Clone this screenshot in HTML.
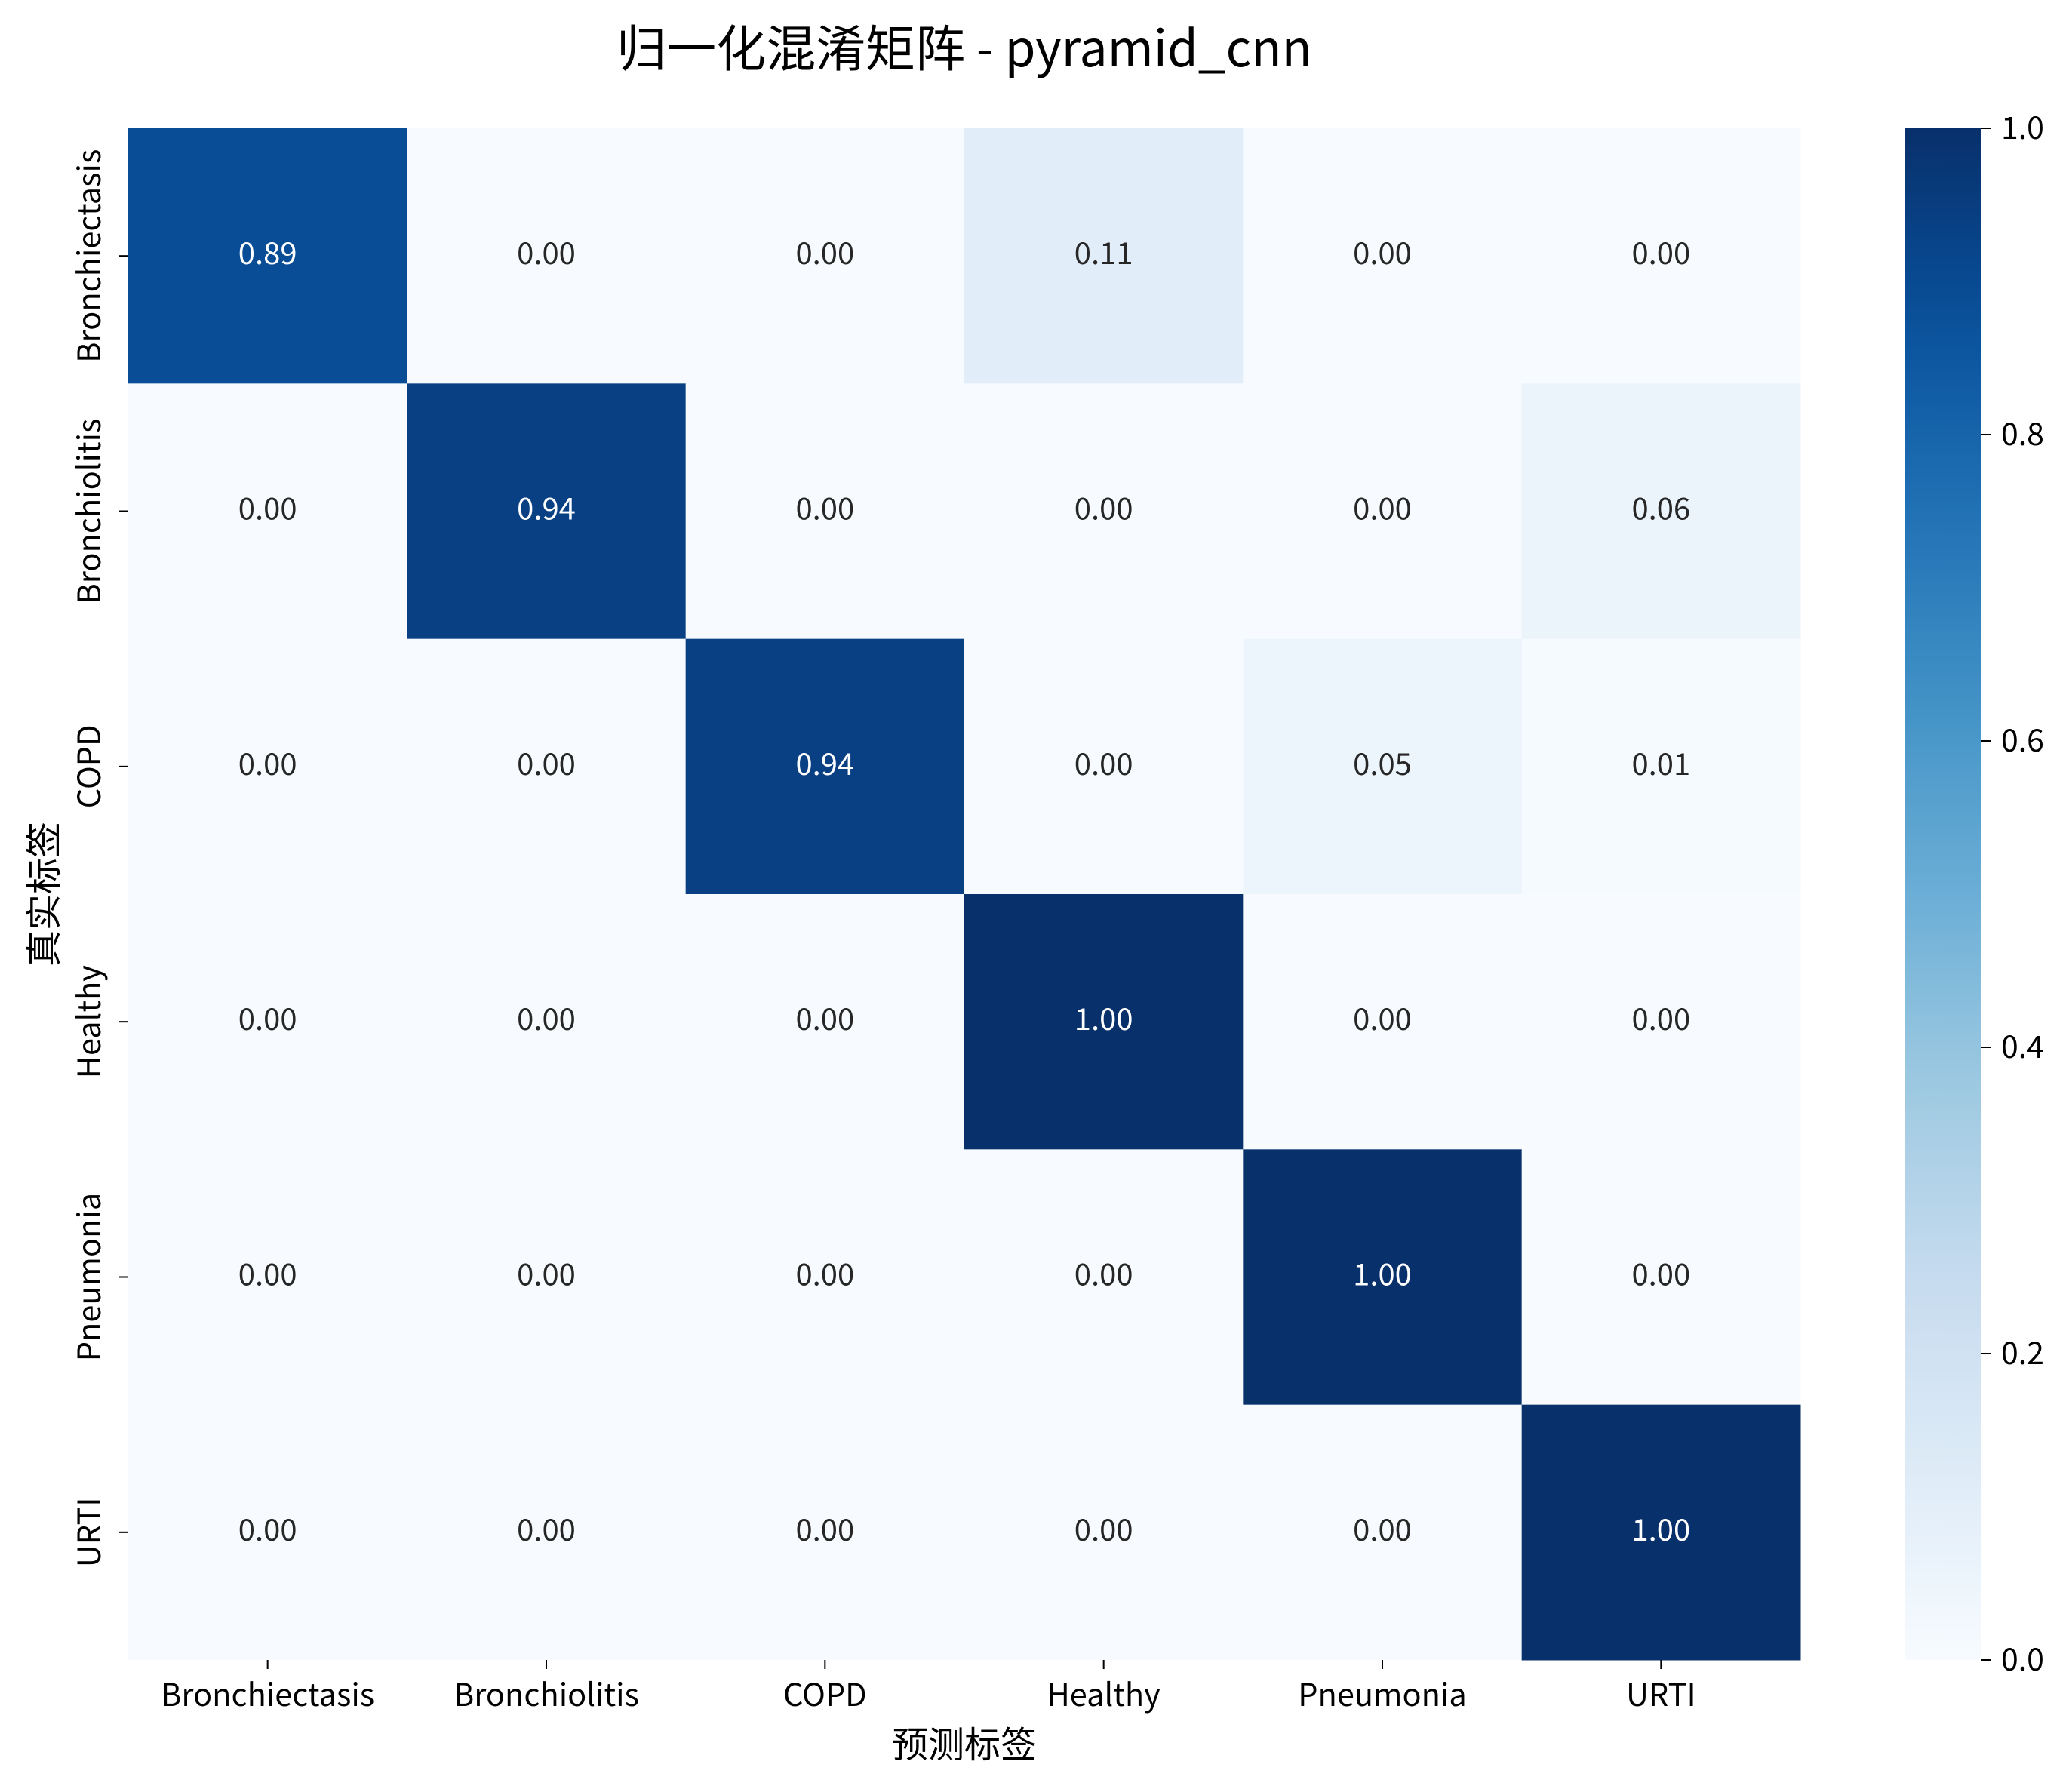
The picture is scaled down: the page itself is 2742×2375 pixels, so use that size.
<!DOCTYPE html>
<html><head><meta charset="utf-8"><style>
body{margin:0;background:#fff;}
svg text{font-family:"Noto Sans CJK SC","Liberation Sans",sans-serif;}
</style></head><body>
<svg id="chart" width="2742" height="2370" xmlns="http://www.w3.org/2000/svg">
<rect width="2742" height="2370" fill="#fff"/>
<text x="1278" y="88" font-size="66" text-anchor="middle">归一化混淆矩阵 - pyramid_cnn</text>
<g id="cells"></g>
<g id="xticks"></g>
<g id="yticks"></g>
<text x="1278" y="2329" font-size="48" text-anchor="middle">预测标签</text>
<text transform="translate(75,1185) rotate(-90)" font-size="48" text-anchor="middle">真实标签</text>
<defs><linearGradient id="cbgrad" x1="0" y1="1" x2="0" y2="0"></linearGradient></defs>
<rect x="2524" y="170" width="102" height="2030" fill="url(#cbgrad)"/>
<g id="cbticks"></g>
</svg>
<script>
const categories=["Bronchiectasis","Bronchiolitis","COPD","Healthy","Pneumonia","URTI"];
const row0=[0.89,0.00,0.00,0.11,0.00,0.00];
const row1=[0.00,0.94,0.00,0.00,0.00,0.06];
const row2=[0.00,0.00,0.94,0.00,0.05,0.01];
const row3=[0.00,0.00,0.00,1.00,0.00,0.00];
const row4=[0.00,0.00,0.00,0.00,1.00,0.00];
const row5=[0.00,0.00,0.00,0.00,0.00,1.00];
const cbTicks=[0.0,0.2,0.4,0.6,0.8,1.0];
const matrix=[row0,row1,row2,row3,row4,row5];
const NS="http://www.w3.org/2000/svg";
const L=170,R=2386,T=170,B=2200;
const cw=(R-L)/categories.length, ch=(B-T)/categories.length;
const xPos=i=>L+i*cw, yPos=i=>T+i*ch;
const stops=["#f7fbff","#deebf7","#c6dbef","#9ecae1","#6baed6","#4292c6","#2171b5","#08519c","#08306b"];
function hex(h){return [1,3,5].map(i=>parseInt(h.substr(i,2),16));}
function cmap(v){v=Math.max(0,Math.min(1,v));const p=v*8,i=Math.min(7,Math.floor(p)),f=p-i;const a=hex(stops[i]),b=hex(stops[i+1]);return "rgb("+a.map((c,k)=>Math.round(c+(b[k]-c)*f)).join(",")+")";}
function el(t,at,txt){const e=document.createElementNS(NS,t);for(const k in at)e.setAttribute(k,at[k]);if(txt!==undefined)e.textContent=txt;return e;}
const gc=document.getElementById("cells");
matrix.forEach((row,r)=>row.forEach((v,c)=>{
  const rc=el("rect",{x:xPos(c),y:yPos(r),width:cw+0.5,height:ch+0.5,fill:cmap(v)});
  
  
  gc.appendChild(rc);
  const t=el("text",{x:xPos(c)+cw/2,y:yPos(r)+ch/2+11,"font-size":40,"text-anchor":"middle",fill:v>0.5?"#fff":"#262626"},v.toFixed(2));
  
  
  gc.appendChild(t);
}));
const gx=document.getElementById("xticks"),gy=document.getElementById("yticks");
categories.forEach((c,i)=>{
  const x=xPos(i)+cw/2;
  gx.appendChild(el("line",{x1:x,x2:x,y1:B,y2:B+12,stroke:"#000","stroke-width":2}));
  const t=el("text",{x:x,y:2261,"font-size":41.5,"text-anchor":"middle"},c);
  
  
  gx.appendChild(t);
  const y=yPos(i)+ch/2;
  gy.appendChild(el("line",{x1:L-12,x2:L,y1:y,y2:y,stroke:"#000","stroke-width":2}));
  const ty=el("text",{transform:`translate(133,${y}) rotate(-90)`,"font-size":41.5,"text-anchor":"middle"},c);
  
  
  gy.appendChild(ty);
});
const grad=document.getElementById("cbgrad");
for(let i=0;i<=20;i++){grad.appendChild(el("stop",{offset:(i/20),"stop-color":cmap(i/20)}));}
const gcb=document.getElementById("cbticks");
cbTicks.forEach(v=>{
  const y=B-(B-T)*v;
  gcb.appendChild(el("line",{x1:2626,x2:2638,y1:y,y2:y,stroke:"#000","stroke-width":2}));
  const t=el("text",{x:2652,y:y+14,"font-size":41},v.toFixed(1));
  
  
  gcb.appendChild(t);
});
</script>
</body></html>
